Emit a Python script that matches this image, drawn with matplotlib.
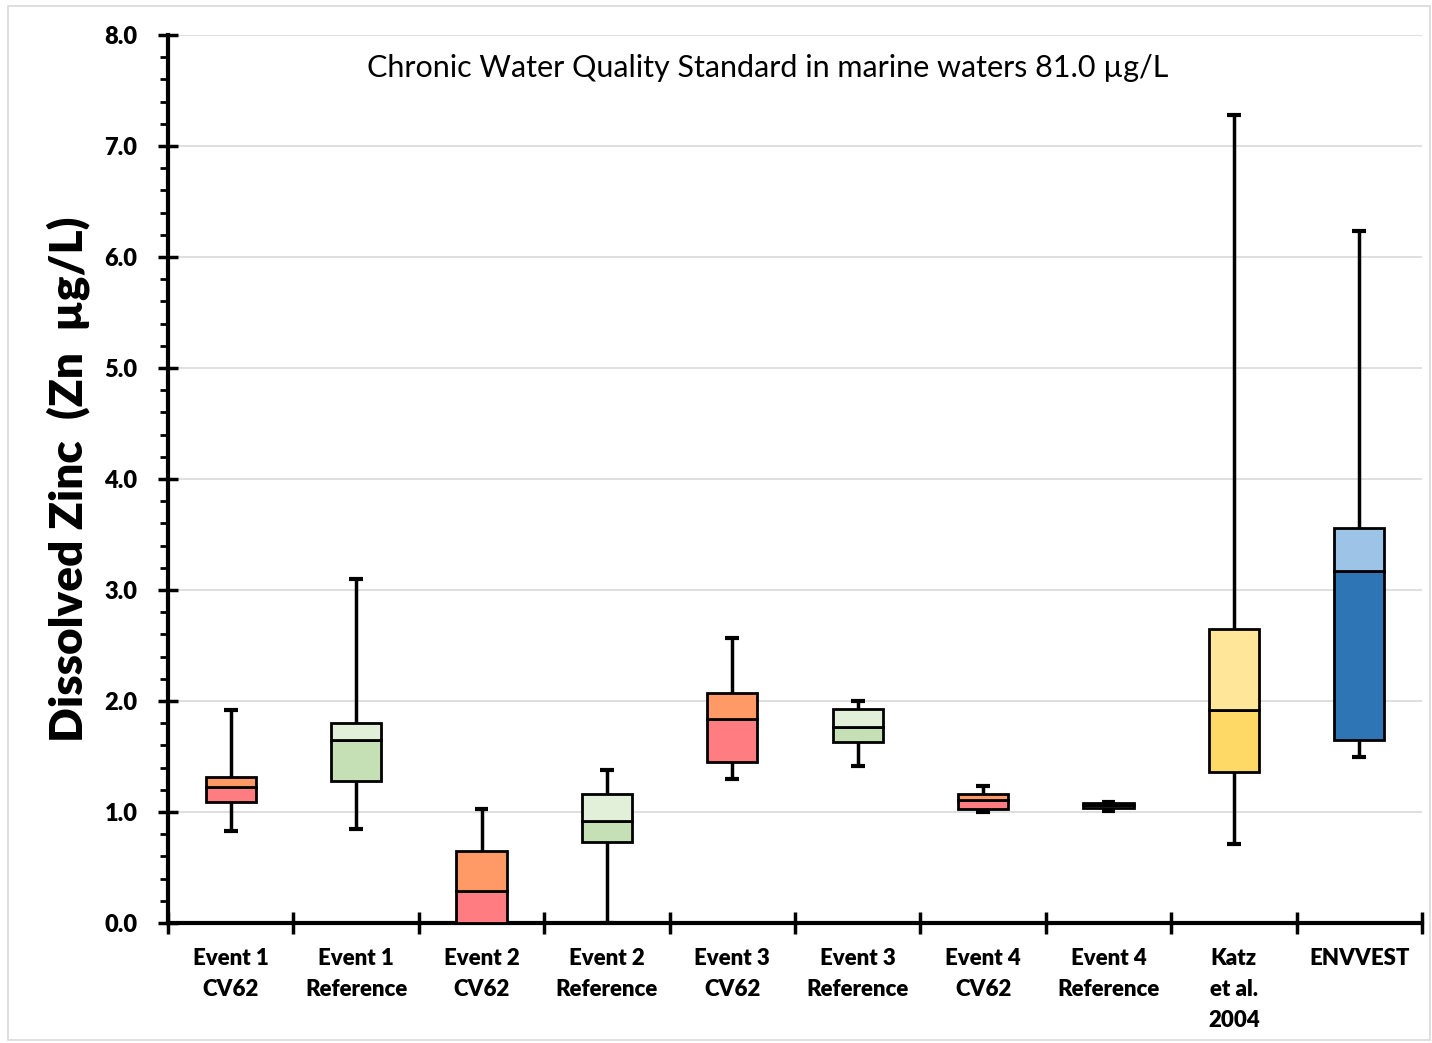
import matplotlib
matplotlib.use("Agg")
import matplotlib.pyplot as plt
from matplotlib.patches import Rectangle
from matplotlib.ticker import MultipleLocator

categories = ["Event 1\nCV62", "Event 1\nReference", "Event 2\nCV62", "Event 2\nReference",
              "Event 3\nCV62", "Event 3\nReference", "Event 4\nCV62", "Event 4\nReference",
              "Katz\net al.\n2004", "ENVVEST"]
mins    = [0.83, 0.85, 0.00, 0.00, 1.30, 1.41, 1.00, 1.01, 0.71, 1.50]
q1s     = [1.09, 1.28, 0.00, 0.73, 1.45, 1.63, 1.03, 1.035, 1.36, 1.65]
medians = [1.225, 1.65, 0.29, 0.92, 1.84, 1.77, 1.11, 1.06, 1.92, 3.17]
q3s     = [1.315, 1.80, 0.65, 1.16, 2.07, 1.93, 1.16, 1.08, 2.65, 3.56]
maxs    = [1.92, 3.10, 1.03, 1.38, 2.57, 2.00, 1.23, 1.09, 7.28, 6.23]
lower_colors = ["#FF7C80", "#C5E0B4", "#FF7C80", "#C5E0B4", "#FF7C80", "#C5E0B4",
                "#FF7C80", "#C5E0B4", "#FFD966", "#2E75B6"]
upper_colors = ["#FF9966", "#E2F0D9", "#FF9966", "#E2F0D9", "#FF9966", "#E2F0D9",
                "#FF9966", "#E2F0D9", "#FFE699", "#9DC3E6"]
yticks = [0, 1, 2, 3, 4, 5, 6, 7, 8]

FONT = ["Lato", "DejaVu Sans"]
plt.rcParams['font.family'] = FONT

W, H = 1432, 1043
fig = plt.figure(figsize=(W/100, H/100), dpi=100)
fig.patches.append(Rectangle((8/W, 3/H), (W-10)/W, (H-9)/H, transform=fig.transFigure,
                             fill=False, edgecolor="#d9d9d9", linewidth=1.2))
ax = fig.add_axes([168/W, 120/H, (1422-168)/W, (923-35)/H])

x = list(range(len(categories)))
bw = 0.40
lw = 2.0
for i in x:
    ax.vlines(i, mins[i], q1s[i], color="black", lw=2.5, zorder=2)
    ax.vlines(i, q3s[i], maxs[i], color="black", lw=2.5, zorder=2)
    ax.hlines([mins[i], maxs[i]], i - 0.055, i + 0.055, color="black", lw=3, zorder=2)
ax.bar(x, [m - q for m, q in zip(medians, q1s)], bottom=q1s, width=bw,
       color=lower_colors, edgecolor="black", linewidth=lw, zorder=3)
ax.bar(x, [q - m for q, m in zip(q3s, medians)], bottom=medians, width=bw,
       color=upper_colors, edgecolor="black", linewidth=lw, zorder=3)

ax.set_xlim(-0.5, len(categories) - 0.5)
ax.set_ylim(0, 8)
ax.set_yticks(yticks)
ax.set_yticklabels([f"{v:.1f}" for v in yticks], fontsize=17, fontweight="heavy")
ax.yaxis.set_minor_locator(MultipleLocator(0.2))
ax.tick_params(axis="y", which="major", direction="inout", length=14, width=2.5, pad=15)
ax.tick_params(axis="y", which="minor", direction="out", length=6, width=2)
ax.grid(axis="y", which="major", color="#d9d9d9", lw=1.2, zorder=0)
ax.set_axisbelow(True)

ax.set_xticks([i + 0.5 for i in range(-1, len(categories))])
ax.set_xticklabels([])
ax.set_xticks(x, minor=True)
ax.set_xticklabels(categories, minor=True, fontsize=16, fontweight="heavy", linespacing=1.6)
ax.tick_params(axis="x", which="major", direction="inout", length=16, width=2.5)
ax.tick_params(axis="x", which="minor", length=0, pad=18)
for lab in ax.get_xticklabels(minor=True):
    lab.set_verticalalignment("top")

for s in ["top", "right"]:
    ax.spines[s].set_visible(False)
for s in ["left", "bottom"]:
    ax.spines[s].set_linewidth(3)

ax.set_ylabel("Dissolved Zinc  (Zn  µg/L)", fontsize=33, fontweight="heavy", labelpad=10)
ax.text(0.478, 0.963, "Chronic Water Quality Standard in marine waters 81.0 µg/L",
        transform=ax.transAxes, ha="center", va="center", fontsize=22)

fig.savefig("out.png", dpi=100)
